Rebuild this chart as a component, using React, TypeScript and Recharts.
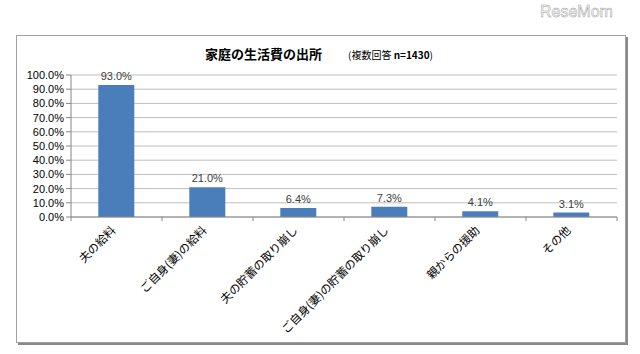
import React from 'react';
import { BarChart, Bar, XAxis, YAxis, CartesianGrid, LabelList } from 'recharts';

const categories = [
	'夫の給料',
	'ご自身(妻)の給料',
	'夫の貯蓄の取り崩し',
	'ご自身(妻)の貯蓄の取り崩し',
	'親からの援助',
	'その他',
];
const values = [93.0, 21.0, 6.4, 7.3, 4.1, 3.1];
const yTicks = [0, 10, 20, 30, 40, 50, 60, 70, 80, 90, 100];

const data = categories.map((name, i) => ({ name, value: values[i] }));

const FONT = '"Noto Sans CJK JP", "Noto Sans", sans-serif';
const NUM_FONT = '"Liberation Sans", Arial, sans-serif';
const pct = (v: number) => v.toFixed(1) + '%';

const CategoryTick = (props: any) => {
	const { x, y, payload, index } = props;
	const off = payload?.offset ?? 45.5;
	return (
		<g>
			<line x1={x - off} y1={y - 8} x2={x - off} y2={y - 4} stroke='#868686' />
			{index === categories.length - 1 && (
				<line x1={x + off} y1={y - 8} x2={x + off} y2={y - 4} stroke='#868686' />
			)}
			<text
				x={x}
				y={y + 6}
				transform={`rotate(-45 ${x} ${y + 6})`}
				textAnchor='end'
				fontSize={11.5}
				fill='#000'
				fontFamily={FONT}
			>
				{payload.value}
			</text>
		</g>
	);
};

export default function App() {
	return (
		<div
			style={{
				position: 'absolute',
				left: 0,
				top: 0,
				width: 640,
				height: 354,
				background: '#fff',
				fontFamily: FONT,
			}}
		>
			<div
				style={{
					position: 'absolute',
					left: 540,
					top: 3,
					fontSize: 16,
					color: '#fff',
					WebkitTextStroke: '0.5px #999',
					fontFamily: NUM_FONT,
				}}
			>
				ReseMom
			</div>
			<div
				style={{
					position: 'absolute',
					left: 16,
					top: 35,
					width: 608,
					height: 306,
					border: '1px solid #a0a0a0',
					boxShadow: '2px 2px 0 #8a8a8a',
				}}
			/>
			<div
				style={{
					position: 'absolute',
					left: 205,
					top: 45,
					fontSize: 13,
					fontWeight: 'bold',
					whiteSpace: 'nowrap',
					lineHeight: '18px',
				}}
			>
				家庭の生活費の出所
			</div>
			<div
				style={{
					position: 'absolute',
					left: 348,
					top: 47,
					fontSize: 10,
					whiteSpace: 'nowrap',
					lineHeight: '16px',
				}}
			>
				(複数回答 <b>n=1430</b>)
			</div>
			<div style={{ position: 'absolute', left: 0, top: 0 }}>
				<BarChart
					width={640}
					height={354}
					data={data}
					margin={{ top: 75, right: 23, left: 12, bottom: 7 }}
					barCategoryGap='30%'
				>
					<CartesianGrid vertical={false} stroke='#bfbfbf' />
					<XAxis
						dataKey='name'
						interval={0}
						height={130}
						tickLine={false}
						axisLine={{ stroke: '#868686' }}
						tick={<CategoryTick />}
					/>
					<YAxis
						width={59}
						domain={[0, 100]}
						ticks={yTicks}
						interval={0}
						tickFormatter={pct}
						axisLine={{ stroke: '#868686' }}
						tickLine={{ stroke: '#868686' }}
						tickSize={5}
						tick={{ fontSize: 11, fill: '#000', fontFamily: NUM_FONT }}
					/>
					<Bar dataKey='value' fill='#4a7ebb' isAnimationActive={false}>
						<LabelList
							dataKey='value'
							position='top'
							formatter={(v: any) => pct(Number(v))}
							style={{ fontSize: 11, fill: '#404040', fontFamily: NUM_FONT }}
						/>
					</Bar>
				</BarChart>
			</div>
		</div>
	);
}
